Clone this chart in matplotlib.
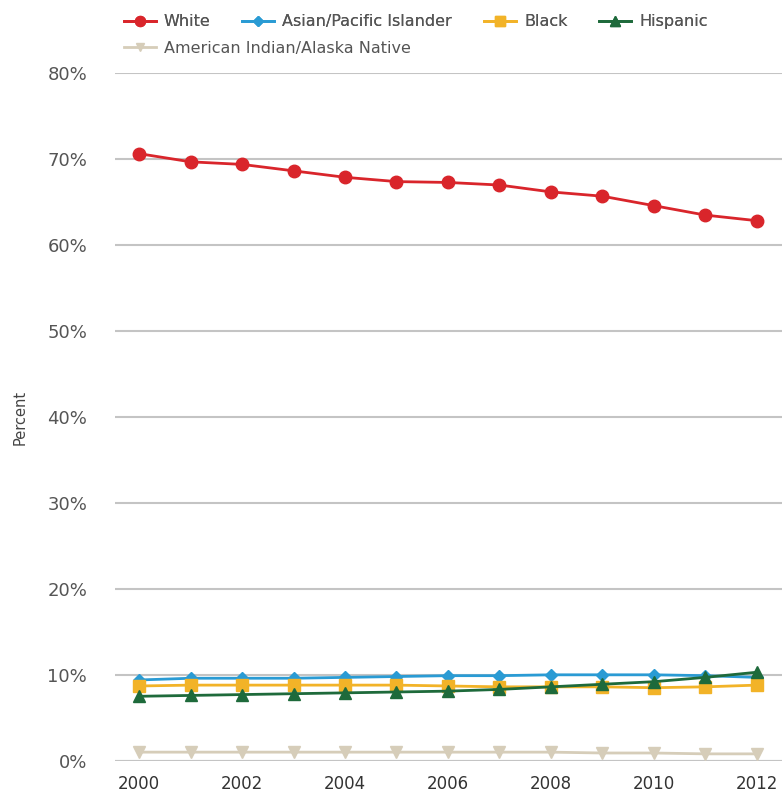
import matplotlib.pyplot as plt
from matplotlib.ticker import FuncFormatter

# Datos (porcentaje)
years = list(range(2000, 2013))
white = [70.65, 69.7, 69.4, 68.65, 67.9, 67.4, 67.3, 67.0, 66.2, 65.7, 64.6, 63.5, 62.85]
asian = [9.4, 9.6, 9.6, 9.6, 9.7, 9.8, 9.9, 9.9, 10.0, 10.0, 10.0, 9.9, 9.7]
black = [8.7, 8.8, 8.8, 8.8, 8.8, 8.8, 8.7, 8.6, 8.6, 8.6, 8.5, 8.6, 8.8]
hispanic = [7.5, 7.6, 7.7, 7.8, 7.9, 8.0, 8.1, 8.3, 8.6, 8.9, 9.2, 9.7, 10.3]
amind = [1.0, 1.0, 1.0, 1.0, 1.0, 1.0, 1.0, 1.0, 1.0, 0.9, 0.9, 0.8, 0.8]

series = [
    ("White", white, "#d9252b", "o", 9),
    ("Asian/Pacific Islander", asian, "#2a9bd4", "D", 6),
    ("Black", black, "#f2b328", "s", 8.5),
    ("Hispanic", hispanic, "#1e6a3b", "^", 8.5),
    ("American Indian/Alaska Native", amind, "#d6cdb9", "v", 8),
]

fig = plt.figure(figsize=(7.82, 7.97), dpi=100)
ax = fig.add_axes([0.147, 0.0455, 0.853, 0.8625])

handles = {}
for name, vals, col, mk, ms in series:
    h, = ax.plot(years, vals, color=col, marker=mk, markersize=ms, linewidth=2,
                 markeredgecolor=col, zorder=3)
    handles[name] = h

ax.set_xlim(1999.53, 2012.49)
ax.set_ylim(0, 80)
ax.set_yticks(range(0, 81, 10))
ax.set_xticks(range(2000, 2013, 2))
ax.yaxis.set_major_formatter(FuncFormatter(lambda v, p: f"{int(v)}%"))
ax.grid(axis="y", color="#c4c4c4", linewidth=1.5, zorder=0)
ax.axhline(0, color="#c6d3e0", linewidth=1.5, zorder=1)
for s in ax.spines.values():
    s.set_visible(False)
ax.tick_params(axis="y", length=0, pad=20, labelsize=13, labelcolor="#555555")
ax.tick_params(axis="x", length=0, pad=10, labelsize=12, labelcolor="#333333")
ax.set_ylabel("Percent", fontsize=10.5, color="#444444", labelpad=14)

# Leyenda en dos filas
leg_kw = dict(loc="upper left", frameon=False, fontsize=11.5, handlelength=2.0,
              handletextpad=0.5, labelcolor="#555555", markerscale=0.8)
row1 = ["White", "Asian/Pacific Islander", "Black", "Hispanic"]
leg1 = fig.legend([handles[n] for n in row1], row1, ncol=4,
                  bbox_to_anchor=(0.14, 1.0), columnspacing=2.0, **leg_kw)
leg2 = fig.legend([handles["American Indian/Alaska Native"]], ["American Indian/Alaska Native"],
                  bbox_to_anchor=(0.14, 0.967), **leg_kw)
fig.add_artist(leg1)

plt.savefig("out.png", dpi=100)
plt.close()
